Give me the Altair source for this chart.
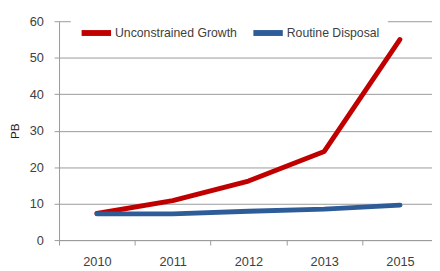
import altair as alt
import pandas as pd

years = ["2010", "2011", "2012", "2013", "2015"]
unconstrained = [7.3, 10.8, 16.2, 24.3, 55.0]
routine = [7.2, 7.2, 7.9, 8.5, 9.6]
series_names = ["Unconstrained Growth", "Routine Disposal"]
series_colors = ["#C00000", "#2E5C99"]

rows = []
for y, v in zip(years, unconstrained):
    rows.append({"year": y, "value": v, "series": series_names[0], "ord": 0})
for y, v in zip(years, routine):
    rows.append({"year": y, "value": v, "series": series_names[1], "ord": 1})
df = pd.DataFrame(rows)

font = "Liberation Sans"

chart = alt.Chart(df).mark_line(strokeWidth=5, strokeCap="round", strokeJoin="round").encode(
    x=alt.X("year:O", sort=years,
            scale=alt.Scale(paddingInner=0, paddingOuter=0),
            axis=alt.Axis(title=None, labelAngle=0, tickBand="extent", tickSize=5,
                          labelPadding=11, labelFontSize=13, labelColor="#404040",
                          labelFont=font, domainColor="#9a9a9a", tickColor="#9a9a9a",
                          grid=False)),
    y=alt.Y("value:Q",
            scale=alt.Scale(domain=[0, 60], nice=False),
            axis=alt.Axis(title="PB", values=[0, 10, 20, 30, 40, 50, 60], tickSize=5,
                          labelPadding=11, labelFontSize=13, labelColor="#404040",
                          labelFont=font, titleFont=font, titleFontSize=12,
                          titleFontWeight="normal", titleColor="#202020", titlePadding=8,
                          gridColor="#9a9a9a", domainColor="#9a9a9a", tickColor="#9a9a9a")),
    color=alt.Color("series:N",
                    scale=alt.Scale(domain=series_names, range=series_colors),
                    legend=alt.Legend(title=None, orient="none", legendX=12, legendY=-14,
                                      direction="horizontal", symbolType="stroke",
                                      symbolSize=900, symbolStrokeWidth=6,
                                      labelFont=font, labelFontSize=12.5, labelColor="#404040",
                                      labelOffset=1, columnPadding=4, fillColor="white",
                                      padding=8)),
    order=alt.Order("ord:Q"),
).properties(
    width=386, height=223,
    autosize=alt.AutoSizeParams(type="none"),
    padding={"left": 52, "top": 11, "right": -6, "bottom": 29},
).configure_view(stroke=None)

chart.save("out.html", embed_options={"renderer": "svg", "actions": False})
